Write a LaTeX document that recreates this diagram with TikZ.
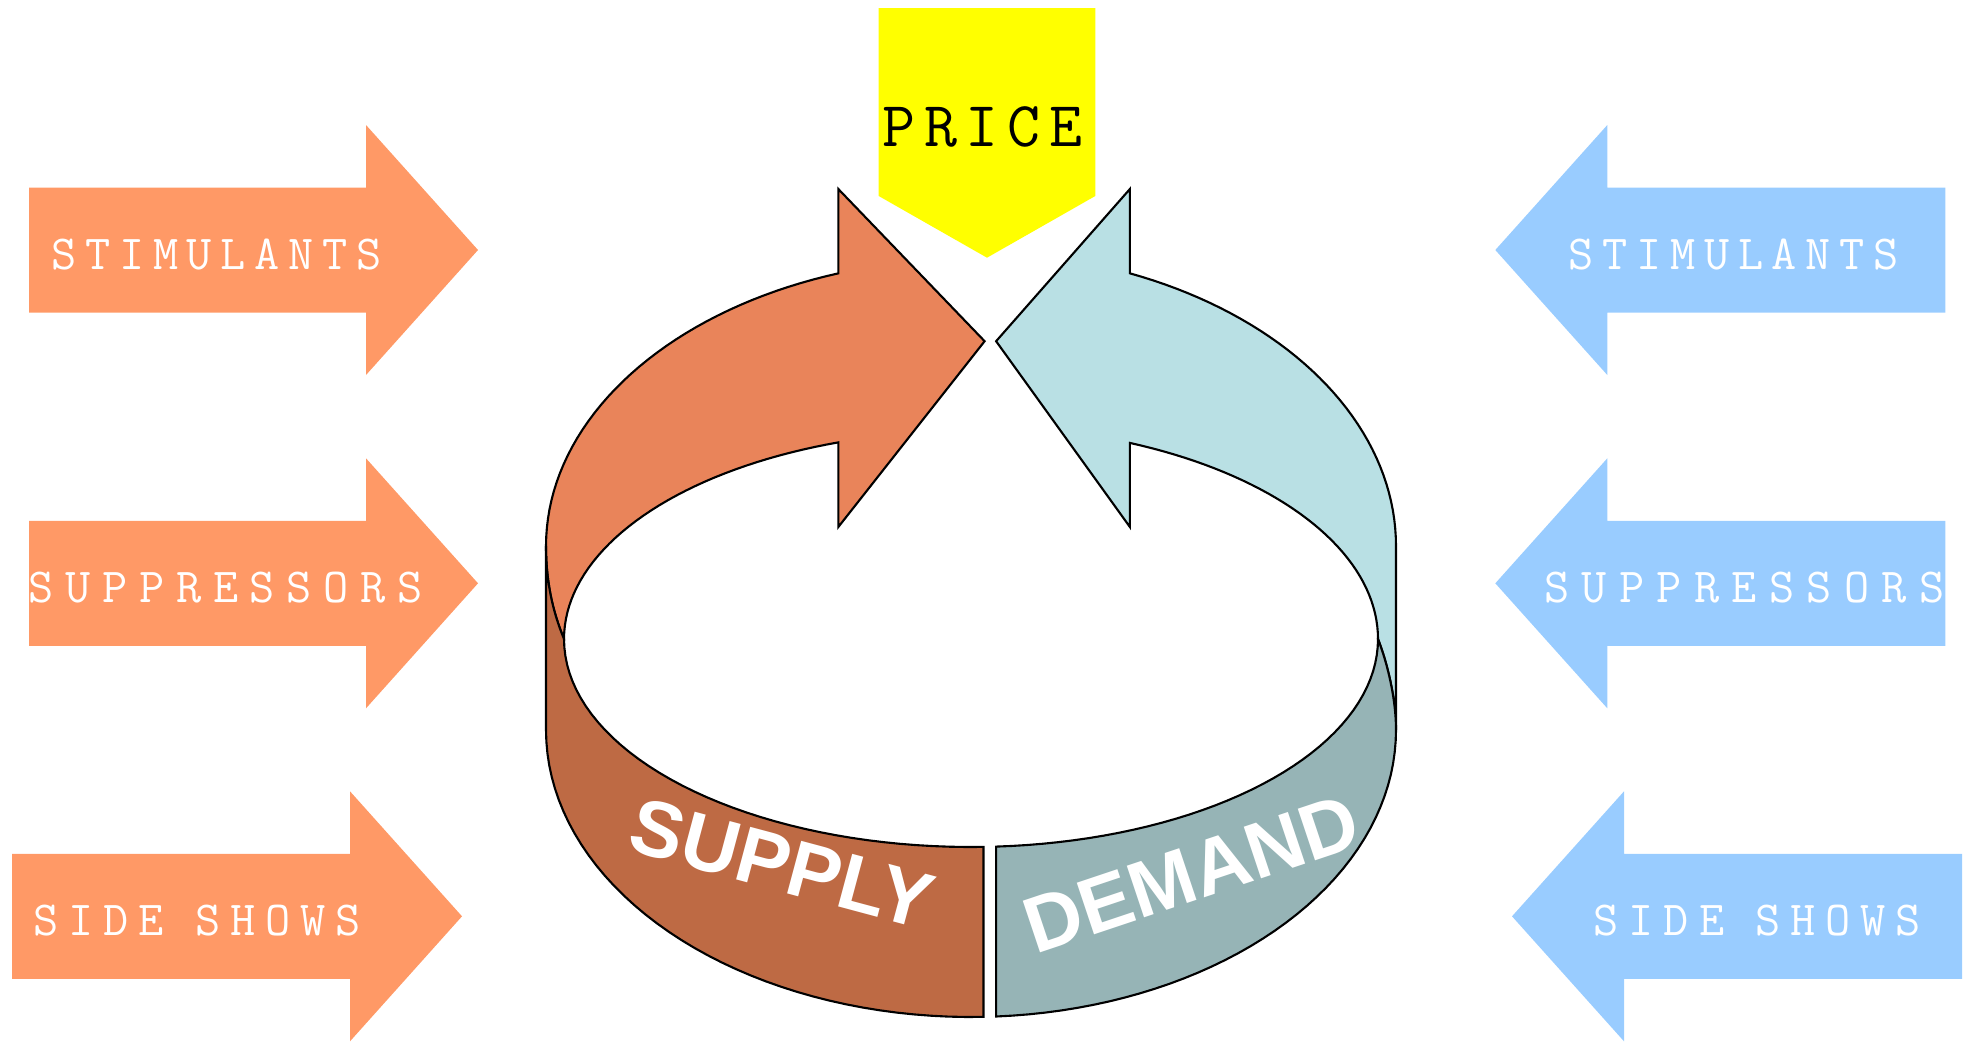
\documentclass[tikz,border=0pt]{standalone}
\usepackage{xcolor}
\usepackage{fontspec}
\setsansfont{Liberation Sans}
\usetikzlibrary{positioning}
\definecolor{pricetag}{HTML}{FFFF00}
\definecolor{supplyin}{HTML}{FF9966}
\definecolor{demandin}{HTML}{99CCFF}
\definecolor{supplytop}{HTML}{E9845A}
\definecolor{supplyfront}{HTML}{BE6A44}
\definecolor{demandtop}{HTML}{B9E0E4}
\definecolor{demandfront}{HTML}{96B4B6}
\makeatletter
\newcommand\trackletters[2]{\def\trk@sep{\hspace{#1}}\trk@first#2\relax}
\def\trk@first#1{#1\trk@loop}
\def\trk@loop#1{\ifx#1\relax\else\trk@sep#1\expandafter\trk@loop\fi}
\makeatother

\begin{document}
\begin{tikzpicture}[
				x=0.01cm, y=-0.01cm,
				inflow/.style={fill=supplyin},
				outflow/.style={fill=demandin},
				band/.style={draw=black, line width=0.6pt},
				factor/.style={inner sep=0pt, text=white, font=\fontsize{13.9}{14}\selectfont\ttfamily},
				word/.style={inner sep=0pt, text=white, font=\fontsize{22.5}{23}\selectfont\sffamily\bfseries},
			]
				\useasboundingbox (0,0) rectangle (1970,1042);

				\fill[pricetag] (878.7,8) -- (1095.3,8) -- (1095.3,196) -- (987,257.7) -- (878.7,196) -- cycle;
				\node[inner sep=0pt, font=\fontsize{18.2}{19}\selectfont\ttfamily] (price) at (982.5,127) {\trackletters{2.5pt}{PRICE}};

				\fill[inflow] (29,187.5) -- ++(337,0) -- ++(0,-62.5) -- ++(112,125) -- ++(-112,125) -- ++(0,-62.5) -- ++(-337,0) -- cycle;
				\fill[inflow] (29,520.8) -- ++(337,0) -- ++(0,-62.5) -- ++(112,125) -- ++(-112,125) -- ++(0,-62.5) -- ++(-337,0) -- cycle;
				\fill[inflow] (12,853.8) -- ++(338,0) -- ++(0,-62.5) -- ++(112,125) -- ++(-112,125) -- ++(0,-62.5) -- ++(-338,0) -- cycle;
				\node[factor] (stimS) at (216.5,255) {\trackletters{2.47pt}{STIMULANTS}};
				\node[factor] (suppS) at (225.7,588) {\trackletters{3.34pt}{SUPPRESSORS}};
				\node[factor] (sideS) at (197.5,921) {\trackletters{2.8pt}{SIDE}\hspace{9pt}\trackletters{2.8pt}{SHOWS}};

				\fill[outflow] (1495.3,250) -- ++(112,-125) -- ++(0,62.5) -- ++(338,0) -- ++(0,125) -- ++(-338,0) -- ++(0,62.5) -- cycle;
				\fill[outflow] (1495.3,583.3) -- ++(112,-125) -- ++(0,62.5) -- ++(338,0) -- ++(0,125) -- ++(-338,0) -- ++(0,62.5) -- cycle;
				\fill[outflow] (1512,916.3) -- ++(112,-125) -- ++(0,62.5) -- ++(338,0) -- ++(0,125) -- ++(-338,0) -- ++(0,62.5) -- cycle;
				\node[factor] (stimD) at (1733.7,255) {\trackletters{2.47pt}{STIMULANTS}};
				\node[factor] (suppD) at (1744.5,588) {\trackletters{3.5pt}{SUPPRESSORS}};
				\node[factor] (sideD) at (1757.5,921) {\trackletters{2.8pt}{SIDE}\hspace{9pt}\trackletters{2.8pt}{SHOWS}};

				% back of the ring
				\draw[band, fill=supplytop] (546,546)
					-- plot[domain=180:251.81, samples=40] ({971+425*cos(\x)}, {546+287*sin(\x)})
					-- (838.3,189) -- (984.6,341.2) -- (838.3,527)
					-- plot[domain=250.97:180, samples=40] ({971+407*cos(\x)}, {639+208*sin(\x)})
					.. controls (552,610) and (546,580) .. (546,546) -- cycle;
				\draw[band, fill=demandtop] (1396,546)
					-- plot[domain=360:291.95, samples=40] ({971+425*cos(\x)}, {546+294*sin(\x)})
					-- (1129.9,189) -- (996.1,341.2) -- (1129.9,527)
					-- plot[domain=292.98:360, samples=40] ({971+407*cos(\x)}, {639+213*sin(\x)})
					.. controls (1388,665) and (1396,700) .. (1396,730) -- cycle;

				% front of the ring
				\draw[band, fill=supplyfront] (546,546) -- (546,730)
					-- plot[domain=180:88.31, samples=40] ({971+425*cos(\x)}, {730+287*sin(\x)})
					-- plot[domain=88.24:180, samples=40] ({971+407*cos(\x)}, {639+208*sin(\x)})
					.. controls (552,610) and (546,580) .. (546,546) -- cycle;
				\draw[band, fill=demandfront] (996.1,846.6)
					-- plot[domain=86.46:0, samples=40] ({971+407*cos(\x)}, {639+208*sin(\x)})
					.. controls (1388,665) and (1396,700) .. (1396,730)
					-- plot[domain=0:86.61, samples=40] ({971+425*cos(\x)}, {730+287*sin(\x)})
					-- cycle;

				\node[word, rotate=-15] (supply) at (781.7,863.7) {SUPPLY};
				\node[word, rotate=18.5] (demand) at (1191.6,873.4) {DEMAND};
			\end{tikzpicture}
\end{document}
